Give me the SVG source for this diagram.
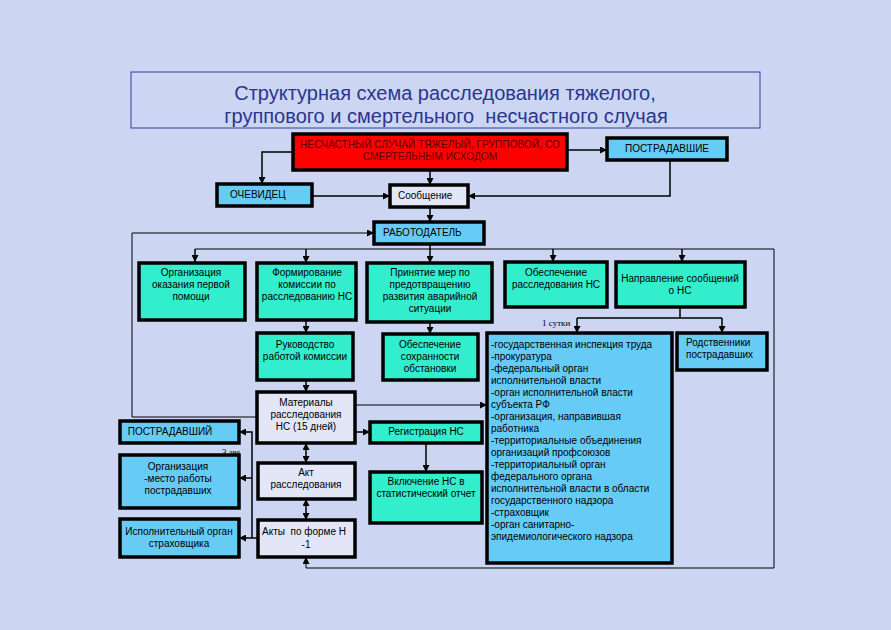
<svg xmlns="http://www.w3.org/2000/svg" width="891" height="630" viewBox="0 0 891 630">
<defs>
<marker id="ah" viewBox="0 0 8 8" refX="8" refY="4" markerWidth="7" markerHeight="7" markerUnits="userSpaceOnUse" orient="auto-start-reverse"><path d="M0,0 L8,4 L0,8 z" fill="#000"/></marker>
<style>
.bx{stroke:#000;stroke-width:3.5}
.teal{fill:#33eecc}
.blue{fill:#66ccf5}
.pale{fill:#e2e6f6}
.red{fill:#ff0000}
.t{font-family:"Liberation Sans",Arial,sans-serif;font-size:10px;fill:#000}
.c{text-anchor:middle}
.ln{fill:none;stroke:#000;stroke-width:1.5}
.thin{fill:none;stroke:#000;stroke-width:1}
.ar{marker-end:url(#ah)}
.dbl{marker-start:url(#ah);marker-end:url(#ah)}
.s{font-family:"Liberation Serif","Times New Roman",serif;font-size:9px;fill:#000}
.ti{font-family:"Liberation Sans",Arial,sans-serif;font-size:20px;fill:#2a3590;text-anchor:middle;white-space:pre}
</style>
</defs>
<rect width="891" height="630" fill="#ccd6f2"/>
<g id="title">
<rect x="131" y="72" width="629" height="56" fill="none" stroke="#3340a0" stroke-width="1"/>
<text class="ti" x="445" y="100">Структурная схема расследования тяжелого,</text>
<text class="ti" x="446" y="123" xml:space="preserve">группового и смертельного  несчастного случая</text>
</g>
<g id="connectors">
<path class="ln ar" d="M293,152 H262 V184"/>
<path class="ln ar" d="M430,170 V185"/>
<path class="ln ar" d="M312,196 H390"/>
<path class="ln ar" d="M567,150 H607"/>
<path class="ln ar" d="M670,160 V196 H468"/>
<path class="ln ar" d="M430,207 V222"/>
<path class="thin ar" d="M258,417 H132 V233 H374"/>
<path class="ln" d="M430,244 V249"/>
<path class="thin ar" d="M195,249 H774 V568 H306 V557"/>
<path class="ln ar" d="M195,249 V262"/>
<path class="ln ar" d="M306,249 V263"/>
<path class="ln ar" d="M430,249 V263"/>
<path class="ln ar" d="M553,249 V262"/>
<path class="ln ar" d="M682,249 V262"/>
<path class="ln ar" d="M306,320 V333"/>
<path class="ln ar" d="M430,322 V334"/>
<path class="ln" d="M680,307 V318 M577,318 H722"/>
<path class="ln ar" d="M577,318 V333"/>
<path class="ln ar" d="M722,318 V333"/>
<path class="ln ar" d="M306,380 V392"/>
<path class="thin ar" d="M355,405 H487"/>
<path class="ln ar" d="M355,432 H370"/>
<path class="ln ar" d="M426,443 V472"/>
<path class="ln dbl" d="M306,443 V463"/>
<path class="ln dbl" d="M306,499 V520"/>
<path class="ln ar" d="M258,538 H239"/>
<path class="ln ar" d="M252,538 V432 H239"/>
<path class="ln ar" d="M252,478 H239"/>
<text class="s" x="542" y="326">1 сутки</text>
<text class="s" x="222" y="455">3 <tspan style="font-size:7.5px">дня</tspan></text>
</g>
<g id="n-accident">
<rect class="bx red" x="293" y="134" width="274" height="36"/>
<text class="t c" x="430" y="148" style="fill:#5a0000;font-size:10.2px">НЕСЧАСТНЫЙ СЛУЧАЙ ТЯЖЕЛЫЙ, ГРУППОВОЙ, СО</text>
<text class="t c" x="430" y="160" style="fill:#5a0000;font-size:10.2px">СМЕРТЕЛЬНЫМ ИСХОДОМ</text>
</g>
<g id="n-victims">
<rect class="bx blue" x="607" y="138" width="120" height="22"/>
<text class="t c" x="667" y="152">ПОСТРАДАВШИЕ</text>
</g>
<g id="n-witness">
<rect class="bx blue" x="217" y="184" width="95" height="22"/>
<text class="t" x="230" y="198">ОЧЕВИДЕЦ</text>
</g>
<g id="n-message">
<rect class="bx pale" x="390" y="185" width="78" height="22"/>
<text class="t" x="398" y="199">Сообщение</text>
</g>
<g id="n-employer">
<rect class="bx blue" x="374" y="222" width="110" height="22"/>
<text class="t" x="383" y="236">РАБОТОДАТЕЛЬ</text>
</g>
<g id="n-firstaid">
<rect class="bx teal" x="139" y="263" width="106" height="57"/>
<text class="t c" x="191" y="276">Организация</text>
<text class="t c" x="191" y="288">оказания первой</text>
<text class="t c" x="191" y="300">помощи</text>
</g>
<g id="n-commission">
<rect class="bx teal" x="257" y="263" width="99" height="57"/>
<text class="t c" x="307" y="276">Формирование</text>
<text class="t c" x="307" y="288">комиссии по</text>
<text class="t c" x="307" y="300">расследованию НС</text>
</g>
<g id="n-measures">
<rect class="bx teal" x="367" y="263" width="125" height="59"/>
<text class="t c" x="430" y="276">Принятие мер по</text>
<text class="t c" x="430" y="288">предотвращению</text>
<text class="t c" x="430" y="300">развития аварийной</text>
<text class="t c" x="430" y="312">ситуации</text>
</g>
<g id="n-support">
<rect class="bx teal" x="505" y="262" width="102" height="45"/>
<text class="t c" x="556" y="276">Обеспечение</text>
<text class="t c" x="556" y="288">расследования НС</text>
</g>
<g id="n-notify">
<rect class="bx teal" x="616" y="262" width="129" height="45"/>
<text class="t c" x="680" y="282">Направление сообщений</text>
<text class="t c" x="680" y="294">о НС</text>
</g>
<g id="n-lead">
<rect class="bx teal" x="257" y="333" width="96" height="47"/>
<text class="t c" x="305" y="348">Руководство</text>
<text class="t c" x="305" y="360">работой комиссии</text>
</g>
<g id="n-preserve">
<rect class="bx teal" x="383" y="334" width="95" height="46"/>
<text class="t c" x="430" y="348">Обеспечение</text>
<text class="t c" x="430" y="360">сохранности</text>
<text class="t c" x="430" y="372">обстановки</text>
</g>
<g id="n-list">
<rect class="bx blue" x="487" y="333" width="185" height="230"/>
<text class="t" x="491" y="348">-государственная инспекция труда</text>
<text class="t" x="491" y="360">-прокуратура</text>
<text class="t" x="491" y="372">-федеральный орган</text>
<text class="t" x="491" y="384">исполнительной власти</text>
<text class="t" x="491" y="396">-орган исполнительной власти</text>
<text class="t" x="491" y="408">субъекта РФ</text>
<text class="t" x="491" y="420">-организация, направившая</text>
<text class="t" x="491" y="432">работника</text>
<text class="t" x="491" y="444">-территориальные объединения</text>
<text class="t" x="491" y="456">организаций профсоюзов</text>
<text class="t" x="491" y="468">-территориальный орган</text>
<text class="t" x="491" y="480">федерального органа</text>
<text class="t" x="491" y="492">исполнительной власти в области</text>
<text class="t" x="491" y="504">государственного надзора</text>
<text class="t" x="491" y="516">-страховщик</text>
<text class="t" x="491" y="528">-орган санитарно-</text>
<text class="t" x="491" y="540">эпидемиологического надзора</text>
</g>
<g id="n-relatives">
<rect class="bx blue" x="677" y="333" width="90" height="37"/>
<text class="t" x="686" y="346">Родственники</text>
<text class="t" x="686" y="358">пострадавших</text>
</g>
<g id="n-materials">
<rect class="bx pale" x="257" y="392" width="98" height="51"/>
<text class="t c" x="306" y="406">Материалы</text>
<text class="t c" x="306" y="418">расследования</text>
<text class="t c" x="306" y="430">НС (15 дней)</text>
</g>
<g id="n-victim">
<rect class="bx blue" x="120" y="421" width="119" height="22"/>
<text class="t c" x="170" y="435">ПОСТРАДАВШИЙ</text>
</g>
<g id="n-org">
<rect class="bx blue" x="120" y="455" width="119" height="53"/>
<text class="t c" x="178" y="470">Организация</text>
<text class="t c" x="178" y="482">-место работы</text>
<text class="t c" x="178" y="494">пострадавших</text>
</g>
<g id="n-insurer">
<rect class="bx blue" x="120" y="519" width="119" height="38"/>
<text class="t c" x="179" y="535">Исполнительный орган</text>
<text class="t c" x="179" y="547">страховщика</text>
</g>
<g id="n-act">
<rect class="bx pale" x="258" y="463" width="97" height="36"/>
<text class="t c" x="306" y="476">Акт</text>
<text class="t c" x="306" y="488">расследования</text>
</g>
<g id="n-acts">
<rect class="bx pale" x="258" y="520" width="97" height="37"/>
<text class="t" x="262" y="535" xml:space="preserve" style="white-space:pre">Акты  по форме Н</text>
<text class="t c" x="306" y="548">-1</text>
</g>
<g id="n-register">
<rect class="bx teal" x="370" y="422" width="112" height="21"/>
<text class="t c" x="426" y="435">Регистрация НС</text>
</g>
<g id="n-stat">
<rect class="bx teal" x="370" y="472" width="112" height="51"/>
<text class="t c" x="426" y="485">Включение НС в</text>
<text class="t c" x="426" y="497">статистический отчет</text>
</g>
</svg>
